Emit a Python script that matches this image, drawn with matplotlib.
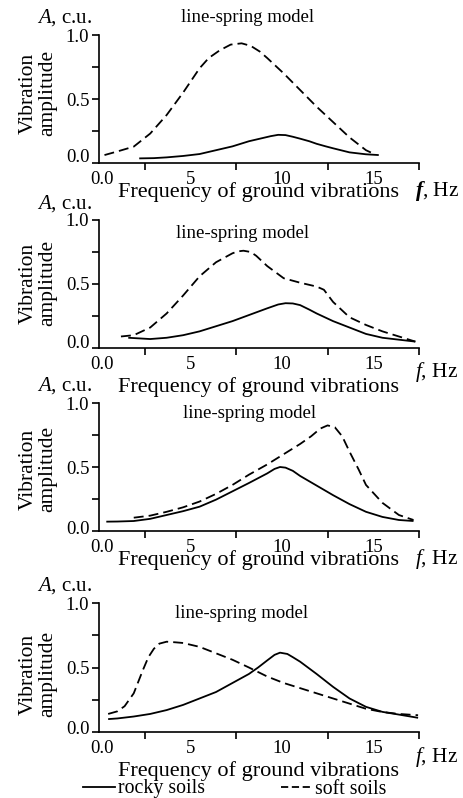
import matplotlib
matplotlib.use("Agg")
import matplotlib.pyplot as plt
import matplotlib.transforms as mtransforms
from matplotlib.lines import Line2D

plt.rcParams['font.family'] = ['Liberation Serif', 'DejaVu Serif']
plt.rcParams['mathtext.fontset'] = 'custom'
plt.rcParams['mathtext.rm'] = 'Liberation Serif'
plt.rcParams['mathtext.it'] = 'Liberation Serif:italic'
plt.rcParams['mathtext.bf'] = 'Liberation Serif:bold'
plt.rcParams['mathtext.bfit'] = 'Liberation Serif:italic:bold'

# ---------------- data ----------------
# Panel 1
p1_rock_f = [2.2, 3.0, 3.7, 4.6, 5.5, 6.4, 7.3, 8.2, 8.8, 9.4, 9.8, 10.2, 10.6, 11.0, 11.5, 11.9, 12.4, 12.8, 13.7, 14.6, 15.3]
p1_rock_a = [0.036, 0.038, 0.044, 0.055, 0.07, 0.10, 0.13, 0.17, 0.19, 0.21, 0.22, 0.218, 0.205, 0.19, 0.17, 0.15, 0.13, 0.115, 0.083, 0.068, 0.062]
p1_soft_f = [0.3, 1.0, 1.9, 2.8, 3.7, 4.6, 5.5, 6.0, 6.6, 7.2, 7.8, 8.3, 8.8, 9.2, 10.1, 11.0, 11.9, 12.8, 13.7, 14.6, 14.9]
p1_soft_a = [0.062, 0.09, 0.128, 0.23, 0.375, 0.55, 0.74, 0.82, 0.88, 0.925, 0.935, 0.915, 0.87, 0.82, 0.70, 0.57, 0.44, 0.32, 0.20, 0.10, 0.08]

# Panel 2
p2_rock_f = [1.6, 2.8, 3.7, 4.6, 5.5, 6.4, 7.3, 8.25, 9.2, 9.8, 10.2, 10.6, 11.0, 11.5, 11.9, 12.8, 13.7, 14.6, 15.5, 16.4, 17.3]
p2_rock_a = [0.08, 0.07, 0.08, 0.10, 0.13, 0.17, 0.21, 0.26, 0.31, 0.34, 0.35, 0.348, 0.335, 0.30, 0.27, 0.21, 0.16, 0.11, 0.08, 0.065, 0.05]
p2_soft_f = [1.2, 1.9, 2.8, 3.7, 4.6, 5.5, 6.4, 7.3, 7.6, 7.9, 8.3, 8.6, 9.2, 10.1, 11.0, 11.9, 12.3, 12.8, 13.7, 14.6, 15.5, 16.4, 17.3]
p2_soft_a = [0.09, 0.10, 0.16, 0.27, 0.41, 0.56, 0.67, 0.74, 0.755, 0.76, 0.75, 0.72, 0.64, 0.545, 0.51, 0.48, 0.455, 0.36, 0.24, 0.18, 0.13, 0.09, 0.05]

# Panel 3
p3_rock_f = [0.4, 1.0, 1.9, 2.8, 3.7, 4.6, 5.5, 6.4, 7.3, 8.2, 9.2, 9.6, 9.9, 10.2, 10.6, 11.0, 11.9, 12.8, 13.7, 14.6, 15.5, 16.4, 17.2]
p3_rock_a = [0.073, 0.074, 0.078, 0.095, 0.125, 0.155, 0.19, 0.245, 0.31, 0.375, 0.45, 0.485, 0.50, 0.495, 0.47, 0.43, 0.355, 0.28, 0.21, 0.15, 0.11, 0.086, 0.078]
p3_soft_f = [1.9, 2.8, 3.7, 4.6, 5.5, 6.4, 7.3, 8.2, 9.2, 10.1, 11.0, 11.6, 12.1, 12.5, 12.9, 13.3, 13.7, 14.2, 14.6, 15.5, 16.4, 17.2]
p3_soft_a = [0.104, 0.12, 0.15, 0.185, 0.23, 0.29, 0.36, 0.44, 0.52, 0.60, 0.68, 0.74, 0.80, 0.825, 0.81, 0.74, 0.62, 0.48, 0.36, 0.22, 0.125, 0.086]

# Panel 4
p4_rock_f = [0.5, 1.0, 1.9, 2.8, 3.7, 4.6, 5.5, 6.4, 7.3, 8.2, 8.7, 9.2, 9.6, 9.9, 10.3, 10.6, 11.0, 11.9, 12.8, 13.7, 14.6, 15.5, 16.4, 17.45]
p4_rock_a = [0.10, 0.105, 0.12, 0.14, 0.17, 0.21, 0.26, 0.31, 0.38, 0.45, 0.50, 0.555, 0.598, 0.615, 0.605, 0.58, 0.545, 0.45, 0.35, 0.26, 0.195, 0.156, 0.135, 0.11]
p4_soft_f = [0.5, 1.0, 1.4, 1.9, 2.4, 2.7, 3.0, 3.3, 3.7, 4.2, 4.6, 5.5, 6.4, 7.3, 8.2, 9.2, 10.1, 11.0, 11.9, 12.8, 13.7, 14.6, 15.5, 16.4, 17.45]
p4_soft_a = [0.14, 0.16, 0.20, 0.30, 0.48, 0.58, 0.645, 0.685, 0.70, 0.695, 0.69, 0.66, 0.61, 0.56, 0.50, 0.43, 0.38, 0.34, 0.30, 0.26, 0.22, 0.18, 0.155, 0.14, 0.13]

x_ticks_major = [0, 5, 10, 15]
x_tick_labels = ["0.0", "5", "10", "15"]
x_ticks_minor = [2.5, 7.5, 12.5, 17.5]
y_ticks = [0.0, 0.25, 0.5, 0.75, 1.0]
y_tick_labels = ["0.0", "", "0.5", "", "1.0"]

title_text = "line-spring model"
xlabel_text = "Frequency of ground vibrations"
ylabel_text = "Vibration\namplitude"
legend_labels = ["rocky soils", "soft soils"]

panels = [
    (p1_rock_f, p1_rock_a, p1_soft_f, p1_soft_a),
    (p2_rock_f, p2_rock_a, p2_soft_f, p2_soft_a),
    (p3_rock_f, p3_rock_a, p3_soft_f, p3_soft_a),
    (p4_rock_f, p4_rock_a, p4_soft_f, p4_soft_a),
]

# ---------------- layout (pixels) ----------------
W, H = 464, 798
fig = plt.figure(figsize=(W / 100, H / 100), dpi=100)

def fx(px):
    return px / W

def fy(py):
    return 1 - py / H

ax_left, ax_right = 99, 419
ax_tops = [35, 220, 403, 603]
ax_bots = [163, 348, 531, 732]
acu_y = [18, 204, 386, 586]
title_pos = [(248, 18), (243, 233), (250, 413), (242, 613)]
ylab_y = [93, 283, 469, 674]
xlab_y = [192, 387, 560, 771]
fhz_y = [191, 372, 559, 757]
zero_shift = [8, 6, 4, 5]
fhz_text = [r"$\mathbfit{f}$, Hz", r"$\mathit{f}$, Hz", r"$\mathit{f}$, Hz", r"$\mathit{f}$, Hz"]

LW = 1.3
DASH = (5.5, 2.8)

for i, (rf, ra, sf, sa) in enumerate(panels):
    ax = fig.add_axes([fx(ax_left), fy(ax_bots[i]), fx(ax_right - ax_left),
                       (ax_bots[i] - ax_tops[i]) / H])
    ax.plot(rf, ra, color='black', lw=LW, solid_capstyle='butt', solid_joinstyle='round')
    ax.plot(sf, sa, color='black', lw=LW, dashes=DASH)
    ax.set_xlim(0, 17.5)
    ax.set_ylim(0, 1.0)
    for s in ['top', 'right']:
        ax.spines[s].set_visible(False)
    for s in ['left', 'bottom']:
        ax.spines[s].set_linewidth(1.2)
    ax.set_xticks(x_ticks_major)
    ax.set_xticklabels(x_tick_labels)
    ax.set_xticks(x_ticks_minor, minor=True)
    ax.tick_params(axis='x', which='major', length=0, pad=6, labelsize=13.5)
    ax.tick_params(axis='x', which='minor', length=5, width=1.2, direction='out')
    ax.set_yticks(y_ticks)
    ax.set_yticklabels(y_tick_labels)
    ax.tick_params(axis='y', which='major', length=5, width=1.2, pad=2, labelsize=13.5)
    ax.patch.set_alpha(0)
    # small offsets of the "0.0" labels as in the reference
    ylab0 = ax.get_yticklabels()[0]
    ylab0.set_transform(ylab0.get_transform() +
                        mtransforms.ScaledTranslation(0, zero_shift[i] / 100, fig.dpi_scale_trans))
    xlab0 = ax.get_xticklabels()[0]
    xlab0.set_transform(xlab0.get_transform() +
                        mtransforms.ScaledTranslation(3 / 100, 0, fig.dpi_scale_trans))

    fig.text(fx(37), fy(acu_y[i]), r"$\mathit{A}$, c.u.", fontsize=15, ha='left', va='center')
    fig.text(fx(title_pos[i][0]), fy(title_pos[i][1]), title_text, fontsize=13.5,
             ha='center', va='center')
    fig.text(fx(38), fy(ylab_y[i]), ylabel_text, fontsize=15.5, rotation=90,
             ha='center', va='center', linespacing=1.1, multialignment='center')
    fig.text(fx(259), fy(xlab_y[i]), xlabel_text, fontsize=16, ha='center', va='center')
    fig.text(fx(415), fy(fhz_y[i]), fhz_text[i], fontsize=15.5, ha='left', va='center')

handles = [Line2D([], [], color='black', lw=LW),
           Line2D([], [], color='black', lw=LW, dashes=(4, 2))]
fig.legend(handles, legend_labels, loc='center', bbox_to_anchor=(fx(235), fy(789)),
           ncol=2, frameon=False, fontsize=14.3, handlelength=1.6, handletextpad=0.15,
           columnspacing=3.8, borderpad=0, borderaxespad=0)

fig.savefig("out.png", dpi=100)
